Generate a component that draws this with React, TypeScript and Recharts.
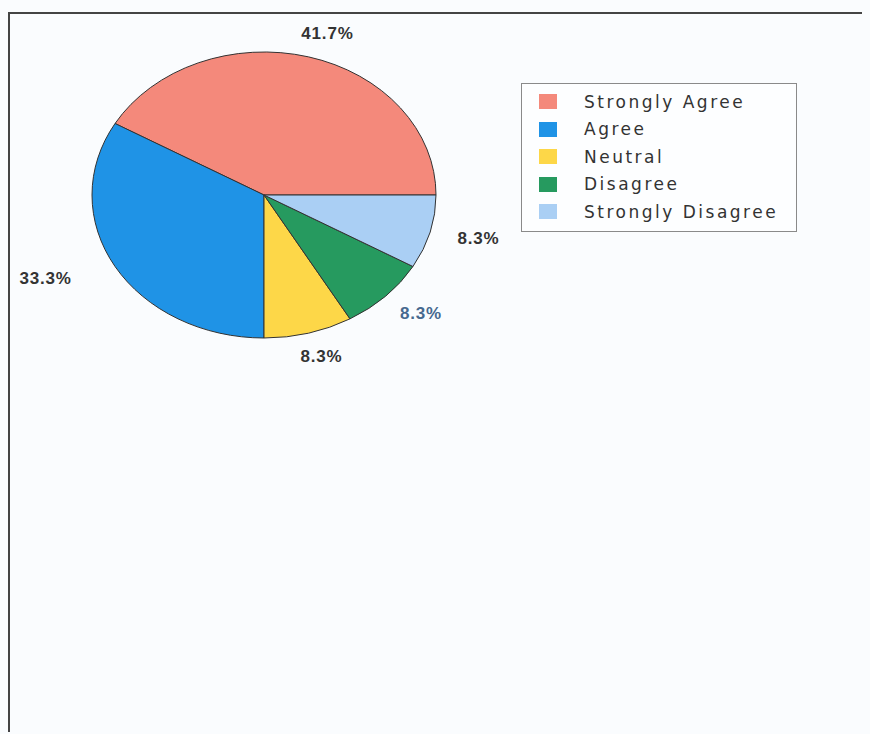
import React from 'react';
import { PieChart, Pie, Cell, Legend } from 'recharts';

// survey answer split (12 responses)
const CATEGORIES = ['Strongly Agree', 'Agree', 'Neutral', 'Disagree', 'Strongly Disagree'];
const COUNTS = [5, 4, 1, 1, 1];

const COLORS = ['#f4897b', '#1f93e6', '#fdd748', '#269a5f', '#aacff4'];
const LABEL_COLORS = ['#333333', '#333333', '#333333', '#46698f', '#333333'];

const data = CATEGORIES.map((name, i) => ({ name, value: COUNTS[i] }));

// the original pie is squashed vertically
const Y_RATIO = 143 / 172;
const RAD = Math.PI / 180;

const EllipseSector = (props: any) => {
  const { cx, cy, outerRadius, startAngle, endAngle, fill } = props;
  const rx = outerRadius;
  const ry = outerRadius * Y_RATIO;
  const x1 = cx + rx * Math.cos(startAngle * RAD);
  const y1 = cy - ry * Math.sin(startAngle * RAD);
  const x2 = cx + rx * Math.cos(endAngle * RAD);
  const y2 = cy - ry * Math.sin(endAngle * RAD);
  const large = Math.abs(endAngle - startAngle) > 180 ? 1 : 0;
  const sweep = endAngle > startAngle ? 0 : 1;
  const d = `M${cx},${cy} L${x1},${y1} A${rx},${ry} 0 ${large} ${sweep} ${x2},${y2} Z`;
  return <path d={d} fill={fill} stroke="#333" strokeWidth={1} />;
};

const renderLabel = (props: any) => {
  const { cx, cy, midAngle, outerRadius, percent, index } = props;
  const c = Math.cos(midAngle * RAD);
  const s = Math.sin(midAngle * RAD);
  const x = cx + (outerRadius + 50) * c + (s > 0.9 ? 6 : 0);
  const y = cy - (outerRadius * Y_RATIO + 24) * s;
  const anchor = c < -0.5 ? 'end' : 'middle';
  return (
    <text
      x={x}
      y={y}
      textAnchor={anchor}
      dominantBaseline="central"
      fill={LABEL_COLORS[index]}
      fontFamily="'Liberation Sans', Arial, sans-serif"
      fontWeight="bold"
      fontSize={17}
      letterSpacing={0.8}
    >
      {(percent * 100).toFixed(1)}%
    </text>
  );
};

const renderLegend = (props: any) => {
  const items = [...(props.payload || [])].sort(
    (a: any, b: any) => CATEGORIES.indexOf(a.value) - CATEGORIES.indexOf(b.value)
  );
  return (
    <div
      style={{
        width: 274,
        height: 143,
        border: '1px solid #8a8a8a',
        boxSizing: 'content-box',
        paddingTop: 4,
        background: '#fdfeff',
      }}
    >
      {items.map((entry: any, i: number) => (
        <div key={i} style={{ display: 'flex', alignItems: 'center', height: 27.5 }}>
          <span
            style={{
              display: 'inline-block',
              width: 18,
              height: 15,
              marginLeft: 17,
              marginRight: 27,
              background: entry.color,
            }}
          />
          <span
            style={{
              fontFamily: "'DejaVu Sans', Verdana, sans-serif",
              fontSize: 17,
              letterSpacing: 2.5,
              color: '#333',
            }}
          >
            {entry.value}
          </span>
        </div>
      ))}
    </div>
  );
};

export default function App() {
  return (
    <div style={{ paddingTop: 4 }}>
      <style>{'body{background:#fafcfe}'}</style>
      <div
        style={{
          width: 858,
          height: 718,
          borderTop: '2px solid #444',
          borderLeft: '2px solid #444',
        }}
      >
        <PieChart width={852} height={710}>
          <Pie
            data={data}
            dataKey="value"
            nameKey="name"
            cx={249}
            cy={176}
            outerRadius={172}
            startAngle={0}
            endAngle={360}
            shape={EllipseSector}
            label={renderLabel}
            labelLine={false}
            isAnimationActive={false}
          >
            {data.map((d, i) => (
              <Cell key={d.name} fill={COLORS[i]} />
            ))}
          </Pie>
          <Legend
            content={renderLegend}
            wrapperStyle={{ position: 'absolute', left: 511, top: 69, width: 276 }}
          />
        </PieChart>
      </div>
    </div>
  );
}
